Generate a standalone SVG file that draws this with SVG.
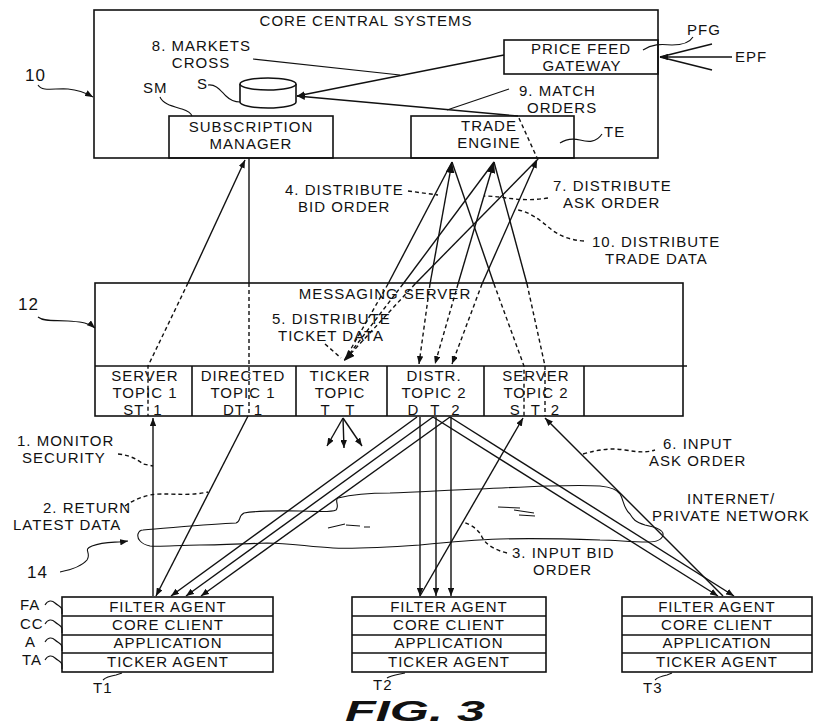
<svg xmlns="http://www.w3.org/2000/svg" width="814" height="728" viewBox="0 0 814 728">
<defs>
<style>
.b{fill:none;stroke:#111;stroke-width:1.6}
.bw{fill:#fff;stroke:#111;stroke-width:1.6}
.l{fill:none;stroke:#111;stroke-width:1.4}
.d{fill:none;stroke:#111;stroke-width:1.4;stroke-dasharray:4 3}
.c{fill:none;stroke:#111;stroke-width:1.1}
.t{font-family:"Liberation Sans",Arial,sans-serif;font-size:15px;letter-spacing:1px;fill:#111}
.n{font-family:"Liberation Sans",Arial,sans-serif;font-size:17px;letter-spacing:1px;fill:#111}
.m{text-anchor:middle}
.e{text-anchor:end}
.fig{font-family:"Liberation Sans",Arial,sans-serif;font-size:29px;font-weight:bold;font-style:italic;fill:#111}
</style>
<marker id="ah" viewBox="0 0 10 8" refX="10" refY="4" markerWidth="8" markerHeight="6.4" markerUnits="userSpaceOnUse" orient="auto">
<path d="M0,0 L10,4 L0,8 z" fill="#111"/>
</marker>
<marker id="ahb" viewBox="0 0 10 8" refX="10" refY="4" markerWidth="11" markerHeight="9" markerUnits="userSpaceOnUse" orient="auto">
<path d="M0,0 L10,4 L0,8 z" fill="#111"/>
</marker>
</defs>
<rect width="814" height="728" fill="#fff"/>

<!-- Core central systems -->
<g id="core-central-systems">
<rect class="b" x="94" y="10" width="564" height="148"/>
<text class="t m" x="366" y="26">CORE CENTRAL SYSTEMS</text>
</g>
<g id="price-feed-gateway">
<rect class="b" x="504" y="40" width="154" height="34"/>
<text class="t m" x="581" y="53.5">PRICE FEED<tspan x="582" y="70.5">GATEWAY</tspan></text>
</g>
<g id="storage-s">
<path class="bw" d="M240,84 V102 A28,6 0 0 0 296,102 V84"/>
<ellipse class="bw" cx="268" cy="84" rx="28" ry="6"/>
</g>
<g id="subscription-manager">
<rect class="b" x="169" y="116" width="164" height="42"/>
<text class="t m" x="251" y="131.5">SUBSCRIPTION<tspan x="251" y="148.5">MANAGER</tspan></text>
</g>
<g id="trade-engine">
<rect class="b" x="411" y="116" width="163" height="42"/>
<text class="t m" x="489" y="130.5">TRADE<tspan x="489" y="147.5">ENGINE</tspan></text>
</g>

<!-- Messaging server -->
<g id="messaging-server">
<rect class="b" x="95" y="283" width="588" height="133"/>
<line class="b" x1="95" y1="366" x2="687" y2="366"/>
<line class="b" x1="192" y1="366" x2="192" y2="416"/>
<line class="b" x1="296" y1="366" x2="296" y2="416"/>
<line class="b" x1="387" y1="366" x2="387" y2="416"/>
<line class="b" x1="484" y1="366" x2="484" y2="416"/>
<line class="b" x1="584" y1="366" x2="584" y2="416"/>
<text class="t m" x="385" y="299">MESSAGING SERVER</text>
</g>
<g id="server-topic-1">
<text class="t m" x="145" y="381">SERVER<tspan x="145" y="398">TOPIC 1</tspan><tspan x="143" y="415" style="word-spacing:4px">ST 1</tspan></text>
</g>
<g id="directed-topic-1">
<text class="t m" x="243" y="381">DIRECTED<tspan x="243" y="398">TOPIC 1</tspan><tspan x="243" y="415" style="word-spacing:4px">DT 1</tspan></text>
</g>
<g id="ticker-topic">
<text class="t m" x="340" y="381">TICKER<tspan x="340" y="398">TOPIC</tspan><tspan x="338" y="415" style="word-spacing:10px">T T</tspan></text>
</g>
<g id="distr-topic-2">
<text class="t m" x="434" y="381">DISTR.<tspan x="434" y="398">TOPIC 2</tspan><tspan x="434" y="415" style="word-spacing:6px">D T 2</tspan></text>
</g>
<g id="server-topic-2">
<text class="t m" x="536" y="381">SERVER<tspan x="536" y="398">TOPIC 2</tspan><tspan x="535" y="415" style="word-spacing:5px">S T 2</tspan></text>
</g>

<!-- Network cloud -->
<g id="network">
<path class="c" d="M143,530 C170,528 210,524 236,523 C241,522 238,516 244,513 C260,510 280,511 300,511 C315,511 330,513 336,510 C340,506 334,500 338,498 C350,495 365,493 390,493 C420,492 450,490 480,489 C520,487 570,484 600,486 C610,487 617,489 620,494 C624,500 623,508 630,514 C633,519 635,522 645,525 C655,527 664,530 663,535 C662,540 655,542 647,542 C630,542 615,540 600,540 C570,539 540,538 500,539 C470,540 440,543 420,545 C390,547 360,549 333,548 C310,547 290,543 267,543 C240,544 220,545 200,545 C180,545 160,547 150,546 C140,544 137,538 138,534 C139,531 141,530 143,530 Z"/>
<path class="c" d="M328,528 L345,524 M346,525 L360,526 M364,527 L370,527"/>
<path class="c" d="M498,507 L520,508 M514,510 L534,513 M519,515 L535,516"/>
<text class="t" x="687" y="504">INTERNET/<tspan x="652" y="521">PRIVATE NETWORK</tspan></text>
</g>

<!-- Terminals -->
<g id="terminal-t1">
<rect class="b" x="62" y="597" width="211" height="75"/>
<line class="b" x1="62" y1="616" x2="273" y2="616"/>
<line class="b" x1="62" y1="635" x2="273" y2="635"/>
<line class="b" x1="62" y1="653" x2="273" y2="653"/>
<text class="t m" x="168" y="612">FILTER AGENT</text>
<text class="t m" x="168" y="630">CORE CLIENT</text>
<text class="t m" x="168" y="648">APPLICATION</text>
<text class="t m" x="168" y="667">TICKER AGENT</text>
</g>
<g id="terminal-t2">
<rect class="b" x="352" y="597" width="194" height="75"/>
<line class="b" x1="352" y1="616" x2="546" y2="616"/>
<line class="b" x1="352" y1="635" x2="546" y2="635"/>
<line class="b" x1="352" y1="653" x2="546" y2="653"/>
<text class="t m" x="449" y="612">FILTER AGENT</text>
<text class="t m" x="449" y="630">CORE CLIENT</text>
<text class="t m" x="449" y="648">APPLICATION</text>
<text class="t m" x="449" y="667">TICKER AGENT</text>
</g>
<g id="terminal-t3">
<rect class="b" x="622" y="597" width="190" height="75"/>
<line class="b" x1="622" y1="616" x2="812" y2="616"/>
<line class="b" x1="622" y1="635" x2="812" y2="635"/>
<line class="b" x1="622" y1="653" x2="812" y2="653"/>
<text class="t m" x="717" y="612">FILTER AGENT</text>
<text class="t m" x="717" y="630">CORE CLIENT</text>
<text class="t m" x="717" y="648">APPLICATION</text>
<text class="t m" x="717" y="667">TICKER AGENT</text>
</g>

<!-- Connectors -->
<g id="connectors">
<line class="l" x1="504" y1="55" x2="297" y2="96" marker-end="url(#ah)"/>
<line class="l" x1="518" y1="116" x2="297" y2="96" marker-end="url(#ah)"/>
<line class="d" x1="538" y1="160" x2="518" y2="116"/>
<line class="l" x1="712" y1="44" x2="660" y2="57"/>
<line class="l" x1="732" y1="57" x2="660" y2="57" marker-end="url(#ah)"/>
<line class="l" x1="712" y1="70" x2="660" y2="57"/>
<line class="l" x1="188" y1="283" x2="245" y2="160" marker-end="url(#ah)"/>
<path class="d" d="M188,283 L148,366 L148,416"/>
<line class="l" x1="249" y1="158" x2="249" y2="283"/>
<line class="d" x1="249" y1="283" x2="249" y2="416"/>
<line class="l" x1="388" y1="284" x2="452" y2="162"/>
<line class="l" x1="430" y1="284" x2="452" y2="162" marker-end="url(#ahb)"/>
<line class="l" x1="494" y1="284" x2="452" y2="162"/>
<line class="l" x1="403" y1="284" x2="494" y2="162"/>
<line class="l" x1="458" y1="284" x2="494" y2="162" marker-end="url(#ahb)"/>
<line class="l" x1="527" y1="284" x2="494" y2="162"/>
<line class="l" x1="415" y1="284" x2="537" y2="160"/>
<line class="l" x1="482" y1="284" x2="537" y2="160" marker-end="url(#ah)"/>
<line class="d" x1="388" y1="284" x2="344" y2="361"/>
<line class="d" x1="403" y1="284" x2="344" y2="361"/>
<line class="d" x1="415" y1="284" x2="344" y2="361" marker-end="url(#ahb)"/>
<line class="d" x1="430" y1="284" x2="419" y2="364" marker-end="url(#ah)"/>
<line class="d" x1="458" y1="284" x2="435" y2="364" marker-end="url(#ah)"/>
<line class="d" x1="482" y1="284" x2="452" y2="364" marker-end="url(#ah)"/>
<path class="d" d="M494,284 L524,366 L524,416"/>
<path class="d" d="M527,284 L545,366 L545,416"/>
<line class="l" x1="153" y1="596" x2="153" y2="418" marker-end="url(#ah)"/>
<line class="l" x1="248" y1="416" x2="156" y2="596" marker-end="url(#ah)"/>
<line class="l" x1="417" y1="417" x2="171" y2="596" marker-end="url(#ah)"/>
<line class="l" x1="433" y1="417" x2="186" y2="596" marker-end="url(#ah)"/>
<line class="l" x1="450" y1="417" x2="201" y2="596" marker-end="url(#ah)"/>
<line class="l" x1="420" y1="417" x2="420" y2="596" marker-end="url(#ah)"/>
<line class="l" x1="436" y1="417" x2="436" y2="596" marker-end="url(#ah)"/>
<line class="l" x1="451" y1="417" x2="451" y2="596" marker-end="url(#ah)"/>
<line class="l" x1="433" y1="417" x2="718" y2="596" marker-end="url(#ah)"/>
<line class="l" x1="450" y1="417" x2="734" y2="596" marker-end="url(#ah)"/>
<line class="l" x1="420" y1="596" x2="523" y2="418" marker-end="url(#ah)"/>
<line class="l" x1="723" y1="596" x2="545" y2="418" marker-end="url(#ah)"/>
<line class="l" x1="343" y1="418" x2="327" y2="446" marker-end="url(#ah)"/>
<line class="l" x1="343" y1="418" x2="344" y2="448" marker-end="url(#ah)"/>
<line class="l" x1="343" y1="418" x2="362" y2="446" marker-end="url(#ah)"/>
</g>

<!-- Labels and leaders -->
<g id="labels">
<text class="n" x="25" y="81">10</text>
<path class="c" d="M38,85 C42,92 55,88 68,89 C80,90 86,93 93,97" marker-end="url(#ah)"/>
<text class="t" x="143" y="93">SM</text>
<path class="c" d="M160,97 C163,104 172,106 182,109 C188,111 191,113 192,116"/>
<text class="t" x="197" y="89">S</text>
<path class="c" d="M208,85 C216,84 220,90 226,96 C230,100 234,102 240,102"/>
<text class="t e" x="251" y="50.5">8. MARKETS<tspan class="m" x="201" y="67.5">CROSS</tspan></text>
<line class="c" x1="253" y1="59" x2="400" y2="75"/>
<text class="t" x="519" y="95.5">9. MATCH<tspan x="527" y="112.5">ORDERS</tspan></text>
<line class="c" x1="447" y1="110" x2="509" y2="89"/>
<text class="t" x="604" y="137">TE</text>
<path class="c" d="M560,143 C566,139 572,138 580,140 C588,142 596,143 602,134"/>
<text class="t" x="687" y="35">PFG</text>
<path class="c" d="M643,50 C652,44 660,44 672,45 C682,45 690,42 693,37"/>
<text class="t" x="735" y="62">EPF</text>

<text class="t" x="285" y="194.5">4. DISTRIBUTE<tspan x="298" y="211.5">BID ORDER</tspan></text>
<line class="d" x1="408" y1="191" x2="438" y2="195"/>
<text class="t" x="553" y="190.5">7. DISTRIBUTE<tspan x="563" y="207.5">ASK ORDER</tspan></text>
<path class="d" d="M548,198 C535,200 525,200 515,199 C505,198 495,196 484,196"/>
<text class="t" x="592" y="247">10. DISTRIBUTE<tspan x="605" y="264">TRADE DATA</tspan></text>
<path class="d" d="M584,241 C570,240 560,236 552,230 C540,220 530,212 518,210"/>

<text class="n" x="18" y="310">12</text>
<path class="c" d="M38,317 C44,322 56,320 68,321 C80,322 88,322 95,328" marker-end="url(#ah)"/>
<text class="t" x="272" y="324">5. DISTRIBUTE<tspan x="278" y="341">TICKET DATA</tspan></text>
<line class="d" x1="325" y1="344" x2="341" y2="358"/>

<text class="t" x="17" y="445.5">1. MONITOR<tspan x="22" y="462.5">SECURITY</tspan></text>
<path class="d" d="M118,454 C130,455 138,460 143,464 L153,466"/>
<text class="t" x="43" y="512.5">2. RETURN<tspan x="13" y="529.5">LATEST DATA</tspan></text>
<path class="d" d="M125,506 C132,501 138,498 150,495 C165,492 185,497 208,492"/>
<text class="t" x="663" y="449">6. INPUT<tspan x="649" y="466">ASK ORDER</tspan></text>
<path class="d" d="M583,454 C600,449 612,448 625,450 C638,452 645,453 655,450"/>
<text class="t" x="512" y="558">3. INPUT BID<tspan x="533" y="575">ORDER</tspan></text>
<path class="d" d="M507,553 C495,550 486,545 482,537 C479,530 472,525 463,522"/>
<text class="n" x="27" y="578">14</text>
<path class="c" d="M60,572 C70,570 82,566 87,560 C92,552 82,550 92,546 C105,541 115,543 128,541" marker-end="url(#ah)"/>

<text class="t" x="20" y="610">FA</text>
<path class="c" d="M45,605 C48,600 52,600 55,603 C58,606 62,606 62,610 V614"/>
<text class="t" x="20" y="629">CC</text>
<path class="c" d="M45,624 C48,619 52,619 55,622 C58,625 62,625 62,629 V633"/>
<text class="t" x="25" y="647">A</text>
<path class="c" d="M45,642 C48,637 52,637 55,640 C58,643 62,643 62,647 V651"/>
<text class="t" x="22" y="665">TA</text>
<path class="c" d="M45,660 C48,655 52,655 55,658 C58,661 62,661 62,665 V669"/>

<text class="t" x="93" y="693">T1</text>
<path class="c" d="M103,680 C106,677 110,676 116,675 L122,673"/>
<text class="t" x="373" y="690">T2</text>
<path class="c" d="M387,678 C390,676 395,675 400,674 L405,673"/>
<text class="t" x="643" y="693">T3</text>
<path class="c" d="M655,680 C658,677 662,676 667,675 L672,673"/>

<text class="fig" x="345" y="721" textLength="140" lengthAdjust="spacingAndGlyphs">FIG. 3</text>
</g>
</svg>
